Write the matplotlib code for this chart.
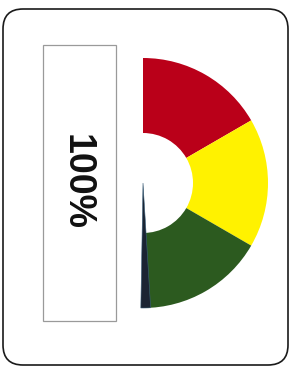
import matplotlib.pyplot as plt
from matplotlib.patches import Wedge, Rectangle, FancyBboxPatch

# Gauge data: zone boundaries in percent (0% at top, 100% at bottom)
zone_names = ["Bad", "Medium", "Good"]
zone_bounds = [0, 33.3, 66.7, 100]
zone_colors = ["#BA0019", "#FFF200", "#2C5A1F"]
value = 100
label = "{}%".format(value)


# percent -> angle in degrees (top = 90, bottom = -90)
def pct_to_angle(p):
    return 90 - p / 100 * 180


def main():
    fig = plt.figure(figsize=(2.96, 3.66), dpi=100)
    ax = fig.add_axes([0, 0, 1, 1])
    ax.set_xlim(0, 296)
    ax.set_ylim(0, 366)
    ax.axis("off")

    # Outer card
    card = FancyBboxPatch((3, 1), 285, 356, boxstyle="round,pad=0,rounding_size=20",
                          fc="white", ec="#1a1a1a", lw=1.2)
    ax.add_patch(card)

    # Label box with rotated value
    ax.add_patch(Rectangle((43, 45), 73, 276, fc="white", ec="#9a9a9a", lw=0.9))
    ax.text(77, 184, label, rotation=-90, ha="center", va="center",
            fontsize=27, fontweight="bold", family="Liberation Sans", color="#111111")

    # Gauge zones
    cx, cy = 143, 183
    r_out, r_in = 125, 50
    for i in range(len(zone_names)):
        a1 = pct_to_angle(zone_bounds[i + 1])
        a2 = pct_to_angle(zone_bounds[i])
        ax.add_patch(Wedge((cx, cy), r_out, a1, a2, width=r_out - r_in,
                           fc=zone_colors[i], ec="none"))

    # Needle
    a = pct_to_angle(value)
    ax.add_patch(Wedge((cx, cy), r_out, a - 1, a + 3.5, fc="#1b2433",
                       ec="#3a5f7a", lw=0.4))

    fig.savefig("out.png", dpi=100)
    plt.close(fig)


if __name__ == "__main__":
    main()
